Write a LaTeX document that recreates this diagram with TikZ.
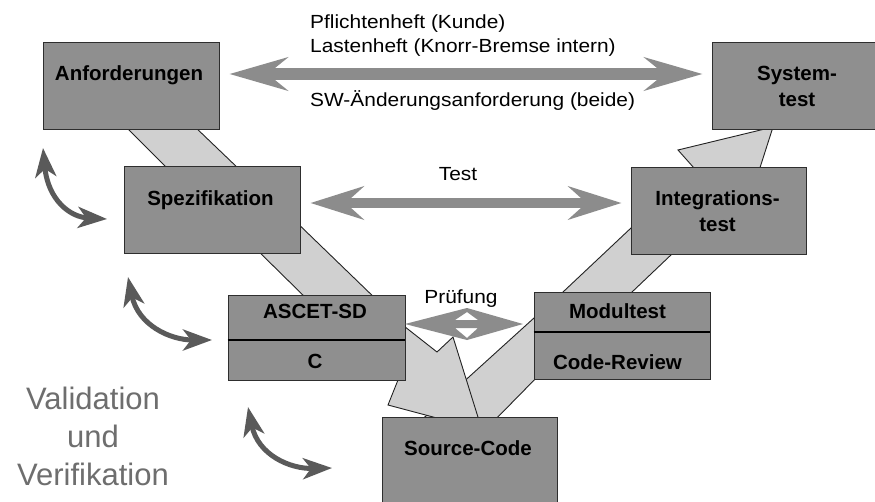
\documentclass[tikz,border=0pt]{standalone}
\usepackage{fontspec}
\setmainfont{Liberation Sans}
\newfontfamily\labelfont[FakeStretch=1.1]{Liberation Sans}
\usetikzlibrary{arrows.meta,calc}

\definecolor{boxgray}{HTML}{8F8F8F}
\definecolor{boxline}{HTML}{2E2E2E}
\definecolor{bandgray}{HTML}{D0D0D0}
\definecolor{bandline}{HTML}{222222}
\definecolor{arrowgray}{HTML}{8C8C8C}
\definecolor{loopgray}{HTML}{5A5A5A}
\definecolor{vvgray}{HTML}{6E6E6E}

\tikzset{
  vbox/.style={draw=boxline, line width=0.9pt, fill=boxgray, inner sep=0pt,
               minimum width=176pt, minimum height=87pt},
  boxtext/.style={font=\fontsize{20.5}{24}\selectfont\bfseries, anchor=base, inner sep=0pt},
  plaintext/.style={font=\labelfont\fontsize{19}{22}\selectfont, inner sep=0pt},
  band/.style={fill=bandgray, draw=bandline, line width=0.9pt, line join=miter},
  divider/.style={draw=black, line width=1.6pt},
  looparrow/.style={draw=loopgray, line width=5pt,
                    {Stealth[length=29pt,width=21pt,inset=8pt]}-{Stealth[length=29pt,width=21pt,inset=8pt]}},
  vvtext/.style={font=\fontsize{31}{36}\selectfont, text=vvgray, anchor=base, inner sep=0pt}
}

\begin{document}
\begin{tikzpicture}[x=1pt,y=-1pt]
  % canvas
  \path[use as bounding box, fill=white] (0,0) rectangle (875,501);
  \clip (0,0) rectangle (875,501);

  % light grey bands of the V, drawn behind the boxes
  \path[band] (124,125) -- (193,125) -- (241,171) -- (170,171) -- cycle;
  \path[band] (250,243) -- (290,216) -- (380,303) -- (311,303) -- cycle;
  \path[band] (416,425) -- (490,425) -- (545,369) -- (545,308) -- cycle;
  \path[band] (395,319) -- (437,352) -- (453,337) -- (482,430) -- (388,405)
              -- (402,370) -- (370,345) -- cycle;
  \path[band] (554.5,300) -- (623.6,300) -- (713,215) -- (644.8,215) -- cycle;
  \path[band] (702,177) -- (678,150) -- (773,127) -- (757,177) -- cycle;

  % process boxes
  \node[vbox] (anf)   at (131,85.5)   {};
  \node[vbox] (spez)  at (212,210)    {};
  \node[vbox, minimum width=175pt] (sys)   at (799.5,86)   {};
  \node[vbox, minimum width=175pt] (integ) at (718.5,210.5) {};
  \node[vbox, minimum width=177pt, minimum height=85pt] (ascet) at (316.5,337.5) {};
  \node[vbox] (modul) at (622,335.5)  {};
  \node[vbox, minimum width=175pt] (src)   at (469.5,460.5) {};

  \draw[divider] ([yshift=-2.5pt]ascet.west) -- ([yshift=-2.5pt]ascet.east);
  \draw[divider] ([yshift=3.5pt]modul.west) -- ([yshift=3.5pt]modul.east);

  % box captions
  \node[boxtext] (anf-t)    at (129,80)    {Anforderungen};
  \node[boxtext] (spez-t)   at (210.5,205) {Spezifikation};
  \node[boxtext] (sys-t1)   at (797,80)    {System-};
  \node[boxtext] (sys-t2)   at (797,106)   {test};
  \node[boxtext] (integ-t1) at (717.5,205) {Integrations-};
  \node[boxtext] (integ-t2) at (717.5,231) {test};
  \node[boxtext] (ascet-t1) at (315,318)   {ASCET-SD};
  \node[boxtext] (ascet-t2) at (315,368)   {C};
  \node[boxtext] (modul-t1) at (617.5,318) {Modultest};
  \node[boxtext] (modul-t2) at (617.5,369) {Code-Review};
  \node[boxtext] (src-t)    at (468,455)   {Source-Code};

  % horizontal double arrows
  \coordinate (ylast) at (0,74);
  \coordinate (ytest) at (0,203);
  \draw[draw=arrowgray, line width=12pt,
        {Stealth[length=58pt,width=33pt,inset=20pt]}-{Stealth[length=58pt,width=33pt,inset=20pt]},
        shorten <=10pt, shorten >=9pt]
    (anf.east |- ylast) -- (sys.west |- ylast);
  \draw[draw=arrowgray, line width=10pt,
        {Stealth[length=53pt,width=33pt,inset=18pt]}-{Stealth[length=53pt,width=33pt,inset=18pt]},
        shorten <=10pt, shorten >=9pt]
    (spez.east |- ytest) -- (integ.west |- ytest);

  % review arrow between the code level boxes
  \fill[arrowgray, even odd rule]
    (405,324) -- (467,308) -- (523,324) -- (467,340) -- cycle
    (467,312) -- (478,320) -- (455,320) -- cycle
    (455,328) -- (478,328) -- (467,338) -- cycle;

  % arrow labels
  \node[plaintext, anchor=base west] (l1) at (310,28)  {Pflichtenheft (Kunde)};
  \node[plaintext, anchor=base west] (l2) at (310,52)  {Lastenheft (Knorr-Bremse intern)};
  \node[plaintext, anchor=base west] (l3) at (310,106) {SW-Änderungsanforderung (beide)};
  \node[plaintext, anchor=base] (ltest) at (458,180) {Test};
  \node[plaintext, anchor=base] (lpr)   at (461,303) {Prüfung};

  % validation / verification loops
  \draw[looparrow] (43,148) .. controls (48,200) and (70,217) .. (107,219);
  \draw[looparrow] (128,277) .. controls (138,325) and (170,340) .. (212,340);
  \draw[looparrow] (248,407) .. controls (258,455) and (290,469) .. (332,468);

  \node[vvtext] (vv1) at (93,409) {Validation};
  \node[vvtext] (vv2) at (93,447) {und};
  \node[vvtext] (vv3) at (93,485) {Verifikation};
\end{tikzpicture}
\end{document}
